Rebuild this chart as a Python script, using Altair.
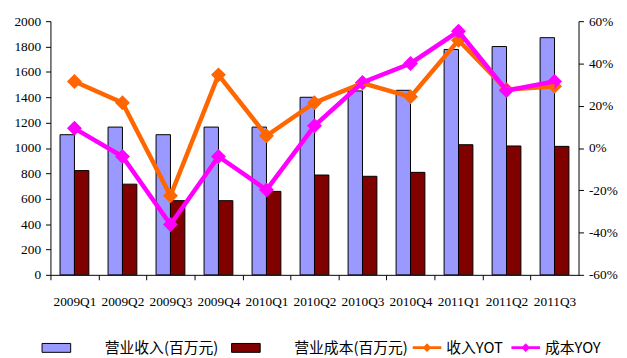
import altair as alt
import pandas as pd

quarters = ["2009Q1", "2009Q2", "2009Q3", "2009Q4", "2010Q1", "2010Q2",
            "2010Q3", "2010Q4", "2011Q1", "2011Q2", "2011Q3"]
bar_series = ["营业收入(百万元)", "营业成本(百万元)"]
revenue = [1105, 1165, 1105, 1165, 1165, 1400, 1450, 1455, 1777, 1800, 1870]
cost = [822, 715, 585, 585, 658, 787, 777, 808, 1026, 1016, 1013]
line_series = ["收入YOT", "成本YOY"]
rev_yoy = [31.5, 21.4, -22.6, 34.6, 5.8, 21.4, 30.7, 24.2, 51.0, 27.6, 29.2]
cost_yoy = [9.3, -4.0, -36.2, -4.0, -19.8, 10.5, 31.0, 40.0, 55.2, 27.2, 31.5]

bars_df = pd.DataFrame({
    "quarter": quarters * 2,
    "series": [bar_series[0]] * len(quarters) + [bar_series[1]] * len(quarters),
    "value": revenue + cost,
})
lines_df = pd.DataFrame({
    "quarter": quarters * 2,
    "series": [line_series[0]] * len(quarters) + [line_series[1]] * len(quarters),
    "value": rev_yoy + cost_yoy,
})

W, H = 535, 257
half_step = W / len(quarters) / 2
num_font = "Liberation Serif"
cjk_font = "Noto Sans CJK SC"
fs = 13.5

x_enc = alt.X(
    "quarter:N", sort=quarters,
    scale=alt.Scale(paddingInner=0.4, paddingOuter=0.2),
    axis=alt.Axis(title=None, labelAngle=0, labelFont=num_font, labelFontSize=fs,
                  labelColor="black", domainColor="black", tickColor="black",
                  tickSize=5, tickOffset=-half_step, labelOffset=half_step,
                  bandPosition=0.5, labelPadding=15, grid=False),
)

bars = alt.Chart(bars_df).mark_bar(stroke="black", strokeWidth=1).encode(
    x=x_enc,
    xOffset=alt.XOffset("series:N", sort=bar_series,
                        scale=alt.Scale(paddingInner=0, paddingOuter=0)),
    y=alt.Y("value:Q", scale=alt.Scale(domain=[0, 2000], nice=False),
            axis=alt.Axis(title=None, orient="left", values=list(range(0, 2001, 200)),
                          format="d",
                          labelFont=num_font, labelFontSize=fs, labelColor="black",
                          domainColor="black", tickColor="black", tickSize=5,
                          labelPadding=5, grid=False)),
    fill=alt.Fill("series:N", sort=bar_series,
                  scale=alt.Scale(domain=bar_series, range=["#9999FF", "#800000"]),
                  legend=alt.Legend(title=None, orient="none", legendX=-9, legendY=316,
                                    direction="horizontal", padding=0,
                                    symbolType="M-1,-0.31H1V0.31H-1Z", symbolSize=841,
                                    symbolStrokeColor="black", symbolStrokeWidth=1,
                                    labelOffset=34, columnPadding=10,
                                    labelFont=cjk_font, labelFontSize=15,
                                    labelColor="black")),
)

y_right = alt.Y("value:Q", scale=alt.Scale(domain=[-60, 60], nice=False),
                axis=alt.Axis(title=None, orient="right", values=list(range(-60, 61, 20)),
                              labelExpr="datum.value + '%'",
                              labelFont=num_font, labelFontSize=fs, labelColor="black",
                              domainColor="black", tickColor="black", tickSize=5,
                              labelPadding=5, grid=False))
color_enc = alt.Color("series:N", sort=line_series,
                      scale=alt.Scale(domain=line_series, range=["#FF6600", "#FF00FF"]),
                      legend=alt.Legend(title=None, orient="none", legendX=367, legendY=316,
                                        direction="horizontal", padding=0,
                                        symbolType="M-1,-0.1H1V0.1H-1Z M0,-0.3L0.3,0L0,0.3L-0.3,0Z",
                                        symbolSize=841, symbolStrokeWidth=0,
                                        labelOffset=5, columnPadding=8,
                                        labelFont=cjk_font, labelFontSize=15,
                                        labelColor="black"))

points = alt.Chart(lines_df).mark_point(filled=True, shape="diamond", size=230, opacity=1).encode(
    x=x_enc, y=y_right, color=color_enc)
lines = alt.Chart(lines_df).mark_line(strokeWidth=4.5).encode(
    x=x_enc, y=y_right, color=color_enc)

right = alt.layer(points, lines)

chart = alt.layer(bars, right).resolve_scale(y="independent").properties(
    width=W, height=H,
    autosize=alt.AutoSizeParams(type="none"),
    padding={"left": 43, "top": 11, "right": 41, "bottom": 90},
).configure_view(stroke=None)

chart.save("out.html", embed_options={"renderer": "svg", "actions": False})
